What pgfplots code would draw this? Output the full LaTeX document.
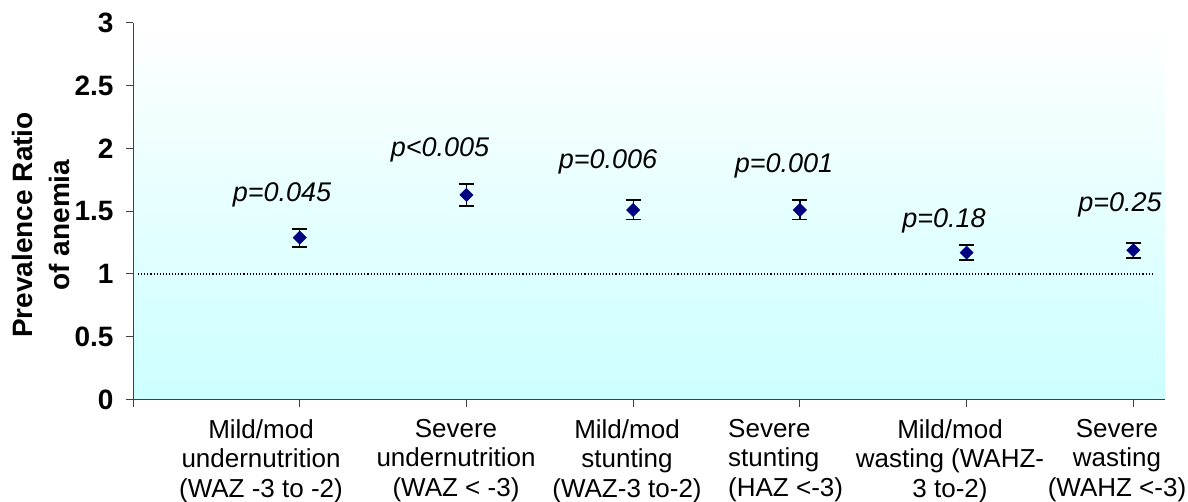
\documentclass[border=0pt]{standalone}
\usepackage{fontspec}
\setmainfont{Liberation Sans}
\usepackage{pgfplots}
\pgfplotsset{compat=1.18}
\definecolor{navy}{HTML}{000080}
\definecolor{bgcyan}{HTML}{CCFFFF}
\begin{document}
\begin{tikzpicture}[x=1pt,y=1pt]
\path[use as bounding box] (0,0) rectangle (1188,-502);
\begin{axis}[
  at={(133pt,-399.5pt)}, anchor=south west,
  scale only axis, width=1032pt, height=376.5pt,
  xmin=0, xmax=6.19, ymin=0, ymax=3,
  axis x line*=bottom, axis y line*=left,
  axis line style={black!75, line width=1pt},
  xtick={0,1,2,3,4,5,6}, xticklabels={},
  ytick={0,0.5,1,1.5,2,2.5,3},
  yticklabels={0,0.5,1,1.5,2,2.5,3},
  tick align=outside, major tick length=7pt,
  tick style={black!75, line width=1pt},
  yticklabel style={font=\bfseries\fontsize{28}{32}\selectfont, xshift=-9pt},
  axis background/.style={top color=white, bottom color=bgcyan},
  clip=false,
]
\addplot[black, line width=1.1pt, dash pattern=on 1.1pt off 2pt] coordinates {(0.03,1) (6.12,1)};
\addplot[only marks, mark=square*, mark size=4.7pt,
  mark options={rotate=45, fill=navy, draw=navy},
  error bars/.cd, y dir=both, y explicit,
  error bar style={black, line width=1.3pt},
  error mark=-,
  error mark options={black, line width=1.8pt, mark size=7.5pt, rotate=90}]
  coordinates {
  (1,1.29) += (0,0.067) -= (0,0.073)
  (2,1.63) += (0,0.09) -= (0,0.085)
  (3,1.51) += (0,0.08) -= (0,0.075)
  (4,1.51) += (0,0.08) -= (0,0.075)
  (5,1.17) += (0,0.06) -= (0,0.06)
  (6,1.19) += (0,0.06) -= (0,0.065)
  };
\end{axis}
\node[rotate=90, align=center, font=\bfseries\fontsize{28}{37}\selectfont, inner sep=0] at (41,-225) {Prevalence Ratio\\of anemia};
\begin{scope}[every node/.style={font=\fontsize{26}{29.5}\selectfont, inner sep=0, align=center, anchor=north}]
\node at (261,-419) {Mild/mod\\undernutrition\\(WAZ -3 to -2)};
\node at (456,-419) {Severe\\undernutrition\\(WAZ < -3)};
\node at (627,-419) {Mild/mod\\stunting\\(WAZ-3 to-2)};
\node[anchor=north west, align=left] at (728,-419) {Severe\\stunting\\(HAZ <-3)};
\node at (950,-419) {Mild/mod\\wasting (WAHZ-\\3 to-2)};
\node at (1117,-419) {Severe\\wasting\\(WAHZ <-3)};
\end{scope}
\begin{scope}[every node/.style={font=\itshape\fontsize{27}{30}\selectfont, inner sep=0, anchor=base}]
\node at (282,-202) {p=0.045};
\node at (440,-157) {p<0.005};
\node at (608,-169) {p=0.006};
\node at (784,-173) {p=0.001};
\node at (944,-228) {p=0.18};
\node at (1120,-212) {p=0.25};
\end{scope}
\end{tikzpicture}
\end{document}
